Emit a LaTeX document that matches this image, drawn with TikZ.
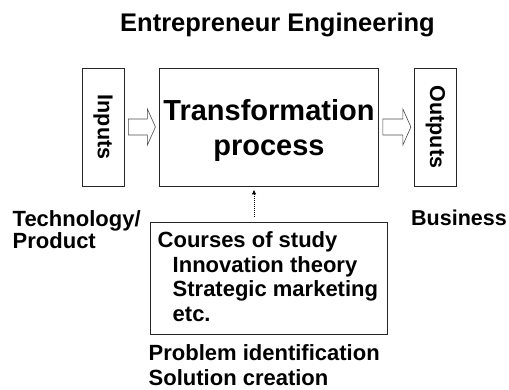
\documentclass[tikz,border=0pt]{standalone}
\usepackage{fontspec}
\setmainfont{Liberation Sans}
\usetikzlibrary{arrows.meta}

\tikzset{
  box/.style={draw=black!85, line width=0.8pt, inner sep=0pt},
  blockarrow/.style={draw=black!70, line width=0.6pt, fill=white},
  txt/.style={inner sep=0pt, anchor=base west, font=\bfseries\fontsize{22}{24.5}\selectfont},
}

\begin{document}
\begin{tikzpicture}[x=1pt, y=-1pt]
      \useasboundingbox (0,0) rectangle (509,390);

      \node[inner sep=0pt, anchor=base, font=\bfseries\fontsize{25.5}{30}\selectfont] (title) at (277.5,32) {Entrepreneur Engineering};

      % the three boxes
      \node[box, minimum width=42pt, minimum height=118pt] (in) at (103,127) {};
      \node[box, minimum width=219pt, minimum height=118pt] (tp) at (269,127) {};
      \node[box, minimum width=42pt, minimum height=118pt] (out) at (435.5,127) {};

      \node[inner sep=0pt, rotate=-90, font=\bfseries\fontsize{21.5}{24}\selectfont] (intxt) at (in.center) {Inputs};
      \node[inner sep=0pt, rotate=-90, font=\bfseries\fontsize{21.5}{24}\selectfont] (outtxt) at (out.center) {Outputs};
      \node[inner sep=0pt, align=center, font=\bfseries\fontsize{29}{35}\selectfont] (tptxt) at ([yshift=-4pt]tp.center) {Transformation\\process};

      % block arrows
      \draw[blockarrow] ([xshift=4pt]in.east) ++(0,-8) -- ++(19,0) -- ++(0,-10) -- ++(8,18) -- ++(-8,18) -- ++(0,-10) -- ++(-19,0) -- cycle;
      \draw[blockarrow] ([xshift=4pt]tp.east) ++(0,-8) -- ++(20,0) -- ++(0,-10) -- ++(8,18) -- ++(-8,18) -- ++(0,-10) -- ++(-20,0) -- cycle;

      % courses
      \node[box, minimum width=236.5pt, minimum height=112pt] (cs) at (269,278.3) {};
      \node[txt] (c1) at (157.5,248) {Courses of study};
      \node[txt] (c2) at (172.5,272.5) {Innovation theory};
      \node[txt] (c3) at (172.5,297) {Strategic marketing};
      \node[txt] (c4) at (172.5,321.5) {etc.};

      \draw[densely dotted, line width=1pt, -{Latex[length=5pt,width=4.5pt]}] ([xshift=-15pt,yshift=5pt]cs.north) -- ([xshift=-15pt,yshift=-3pt]tp.south);

      % labels
      \node[txt] (tech) at (12.5,227) {Technology/};
      \node[txt] (prod) at (12.5,248.5) {Product};
      \node[txt, font=\bfseries\fontsize{21.5}{24}\selectfont] (bus) at (411,226) {Business};
      \node[txt] (prob) at (148.5,360) {Problem identification};
      \node[txt] (sol) at (148.5,385) {Solution creation};
\end{tikzpicture}
\end{document}
